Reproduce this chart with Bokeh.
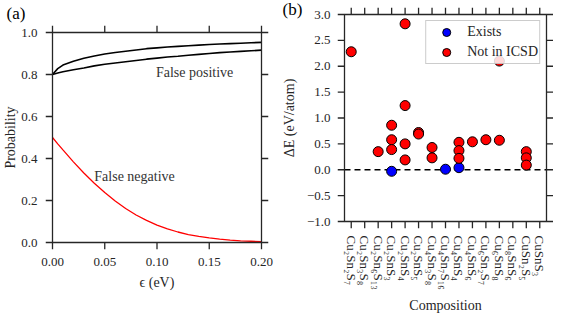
from bokeh.plotting import figure
from bokeh.models import FixedTicker, Label, Range1d, NumeralTickFormatter
from bokeh.layouts import row, column
from bokeh.embed import file_html
from bokeh.resources import INLINE

# ---------------- Panel (a) data ----------------
eps = [0.0, 0.005, 0.01, 0.02, 0.03, 0.04, 0.05, 0.06, 0.07, 0.08, 0.09, 0.10,
       0.11, 0.12, 0.13, 0.14, 0.15, 0.16, 0.17, 0.18, 0.19, 0.20]
fp_upper = [0.800, 0.828, 0.845, 0.863, 0.877, 0.888, 0.898, 0.905, 0.911, 0.917, 0.923, 0.927,
            0.931, 0.934, 0.937, 0.940, 0.943, 0.945, 0.947, 0.949, 0.951, 0.953]
fp_lower = [0.800, 0.807, 0.813, 0.823, 0.831, 0.841, 0.849, 0.855, 0.861, 0.867, 0.873, 0.878,
            0.883, 0.887, 0.892, 0.896, 0.900, 0.904, 0.907, 0.910, 0.913, 0.916]
fn_curve = [0.500, 0.470, 0.441, 0.384, 0.331, 0.282, 0.238, 0.198, 0.162, 0.131, 0.105, 0.083,
            0.065, 0.050, 0.038, 0.029, 0.022, 0.016, 0.011, 0.008, 0.006, 0.004]
a_xlim = [0.0, 0.2]
a_ylim = [0.0, 1.0]
a_xticks = [0.0, 0.05, 0.10, 0.15, 0.20]
a_yticks = [0.0, 0.2, 0.4, 0.6, 0.8, 1.0]

# ---------------- Panel (b) data ----------------
compositions = ["Cu₂Sn₂S₇", "Cu₂Sn₃S₈", "Cu₂Sn₆S₁₃", "Cu₂SnS₃", "Cu₂SnS₄", "Cu₂SnS₅",
                "Cu₄Sn₃S₈", "Cu₄Sn₇S₁₆", "Cu₄SnS₄", "Cu₄SnS₆", "Cu₆Sn₂S₇", "Cu₆SnS₈",
                "Cu₈SnS₆", "CuSn₂S₅", "CuSnS₃"]
red_comp = ["Cu₂Sn₂S₇", "Cu₂Sn₆S₁₃",
            "Cu₂SnS₃", "Cu₂SnS₃", "Cu₂SnS₃",
            "Cu₂SnS₄", "Cu₂SnS₄", "Cu₂SnS₄", "Cu₂SnS₄",
            "Cu₂SnS₅", "Cu₂SnS₅",
            "Cu₄Sn₃S₈", "Cu₄Sn₃S₈",
            "Cu₄SnS₄", "Cu₄SnS₄", "Cu₄SnS₄",
            "Cu₄SnS₆", "Cu₆Sn₂S₇",
            "Cu₆SnS₈", "Cu₆SnS₈",
            "CuSn₂S₅", "CuSn₂S₅", "CuSn₂S₅"]
red_dE = [2.28, 0.35,
          0.86, 0.58, 0.39,
          2.82, 1.24, 0.50, 0.19,
          0.72, 0.69,
          0.43, 0.23,
          0.53, 0.37, 0.22,
          0.54, 0.58,
          2.10, 0.57,
          0.35, 0.23, 0.09]
blue_comp = ["Cu₂SnS₃", "Cu₄Sn₇S₁₆", "Cu₄SnS₄"]
blue_dE = [-0.03, 0.01, 0.04]
b_ylim = [-1.0, 3.0]
b_yticks = [-1.0, -0.5, 0.0, 0.5, 1.0, 1.5, 2.0, 2.5, 3.0]

FONT = "Liberation Serif"
INK = "#262626"
TICK = 7  # tick length in px


def style_axis(ax):
    ax.axis_line_color = None
    ax.major_tick_line_color = None
    ax.major_tick_out = 0
    ax.major_tick_in = 0
    ax.minor_tick_line_color = None
    ax.minor_tick_out = 0
    ax.minor_tick_in = 0
    ax.major_label_text_font = FONT
    ax.major_label_text_color = INK
    ax.major_label_text_font_size = "13px"
    ax.axis_label_text_font = FONT
    ax.axis_label_text_font_style = "normal"
    ax.axis_label_text_color = INK
    ax.axis_label_text_font_size = "14px"


def frame_and_ticks(p, xlim, ylim, xticks, yticks, ex, ey):
    n, m = len(xticks), len(yticks)
    kw = dict(line_color=INK, line_width=1.3)
    p.segment(x0=xticks, y0=[ylim[0]] * n, x1=xticks, y1=[ylim[0] - ey] * n, **kw)
    p.segment(x0=xticks, y0=[ylim[1]] * n, x1=xticks, y1=[ylim[1] + ey] * n, **kw)
    p.segment(x0=[xlim[0]] * m, y0=yticks, x1=[xlim[0] - ex] * m, y1=yticks, **kw)
    p.segment(x0=[xlim[1]] * m, y0=yticks, x1=[xlim[1] + ex] * m, y1=yticks, **kw)
    p.quad(left=[xlim[0]], right=[xlim[1]], bottom=[ylim[0]], top=[ylim[1]],
           fill_color=None, **kw)


def style_title(p, text, offset, standoff, valign):
    p.title.text = text
    p.title.align = "left"
    p.title.offset = offset
    p.title.standoff = standoff
    p.title.vertical_align = valign
    p.title.text_font = FONT
    p.title.text_font_size = "17px"
    p.title.text_font_style = "normal"
    p.title.text_color = "black"


# ---------------- Figure (a) ----------------
a_fw, a_fh = 209, 210  # visual frame size in px
a_ex = (a_xlim[1] - a_xlim[0]) * TICK / a_fw
a_ey = (a_ylim[1] - a_ylim[0]) * TICK / a_fh
p1 = figure(frame_width=a_fw + 2 * TICK, frame_height=a_fh + 2 * TICK,
            x_range=Range1d(a_xlim[0] - a_ex, a_xlim[1] + a_ex),
            y_range=Range1d(a_ylim[0] - a_ey, a_ylim[1] + a_ey),
            output_backend="svg", toolbar_location=None,
            min_border_left=39, min_border_right=10, min_border_top=25, min_border_bottom=64)
p1.outline_line_color = None
p1.xgrid.grid_line_color = None
p1.ygrid.grid_line_color = None
style_title(p1, "(a)", -39, 2, "top")

p1.line(eps, fp_upper, line_color="black", line_width=1.6)
p1.line(eps, fp_lower, line_color="black", line_width=1.6)
p1.line(eps, fn_curve, line_color="red", line_width=1.3)
frame_and_ticks(p1, a_xlim, a_ylim, a_xticks, a_yticks, a_ex, a_ey)

p1.xaxis.ticker = FixedTicker(ticks=a_xticks)
p1.yaxis.ticker = FixedTicker(ticks=a_yticks)
for ax in p1.below + p1.left:
    style_axis(ax)
p1.xaxis.formatter = NumeralTickFormatter(format="0.00")
p1.yaxis.formatter = NumeralTickFormatter(format="0.0")
p1.xaxis.axis_label = "ϵ (eV)"
p1.yaxis.axis_label = "Probability"
p1.xaxis.major_label_standoff = 8
p1.yaxis.major_label_standoff = 8
p1.xaxis.axis_label_standoff = 6
p1.yaxis.axis_label_standoff = 0

p1.add_layout(Label(x=0.099, y=0.81, text="False positive", text_font=FONT,
                    text_font_size="14px", text_color="#333333", text_baseline="middle"))
p1.add_layout(Label(x=0.040, y=0.313, text="False negative", text_font=FONT,
                    text_font_size="14px", text_color="#333333", text_baseline="middle"))

# ---------------- Figure (b) ----------------
b_xlim = [-0.5, len(compositions) - 0.5]
b_xticks = list(range(len(compositions)))
b_fw, b_fh = 202, 207
b_ex = (b_xlim[1] - b_xlim[0]) * TICK / b_fw
b_ey = (b_ylim[1] - b_ylim[0]) * TICK / b_fh
p2 = figure(frame_width=b_fw + 2 * TICK, frame_height=b_fh + 2 * TICK,
            x_range=Range1d(b_xlim[0] - b_ex, b_xlim[1] + b_ex),
            y_range=Range1d(b_ylim[0] - b_ey, b_ylim[1] + b_ey),
            output_backend="svg", toolbar_location=None,
            min_border_left=57, min_border_right=0, min_border_top=7, min_border_bottom=86)
p2.outline_line_color = None
p2.xgrid.grid_line_color = None
p2.ygrid.grid_line_color = None
style_title(p2, "(b)", -55, -22, "bottom")

p2.line(x=b_xlim, y=[0, 0], line_color="black", line_dash="6 4", line_width=1.3)

blue_x = [compositions.index(c) for c in blue_comp]
red_x = [compositions.index(c) for c in red_comp]
p2.scatter(blue_x, blue_dE, size=10, fill_color="blue", line_color="black",
           line_width=1, legend_label="Exists")
p2.scatter(red_x, red_dE, size=10, fill_color="red", line_color="black",
           line_width=1, legend_label="Not in ICSD")
frame_and_ticks(p2, b_xlim, b_ylim, b_xticks, b_yticks, b_ex, b_ey)

p2.xaxis.ticker = FixedTicker(ticks=b_xticks)
p2.yaxis.ticker = FixedTicker(ticks=b_yticks)
for ax in p2.below + p2.left:
    style_axis(ax)
p2.xaxis.major_label_overrides = {i: c for i, c in enumerate(compositions)}
p2.yaxis.formatter = NumeralTickFormatter(format="0.0")
p2.yaxis.major_label_overrides = {-1.0: "−1.0", -0.5: "−0.5"}
p2.xaxis.major_label_orientation = "vertical"
p2.xaxis.axis_label = "Composition"
p2.yaxis.axis_label = "ΔE (eV/atom)"
p2.xaxis.major_label_standoff = 7
p2.yaxis.major_label_standoff = 7
p2.xaxis.axis_label_standoff = 5
p2.yaxis.axis_label_standoff = 7

leg = p2.legend[0]
leg.location = "top_right"
leg.label_text_font = FONT
leg.label_text_font_size = "14px"
leg.label_text_color = INK
leg.border_line_color = "#999999"
leg.border_line_width = 1
leg.background_fill_alpha = 0.85
leg.margin = 13
leg.padding = 1
leg.spacing = -4
leg.label_height = 20
leg.glyph_height = 20
leg.glyph_width = 38
leg.label_standoff = 2

layout = row(column(p1), column(p2))
open("out.html", "w").write(file_html(layout, INLINE))
